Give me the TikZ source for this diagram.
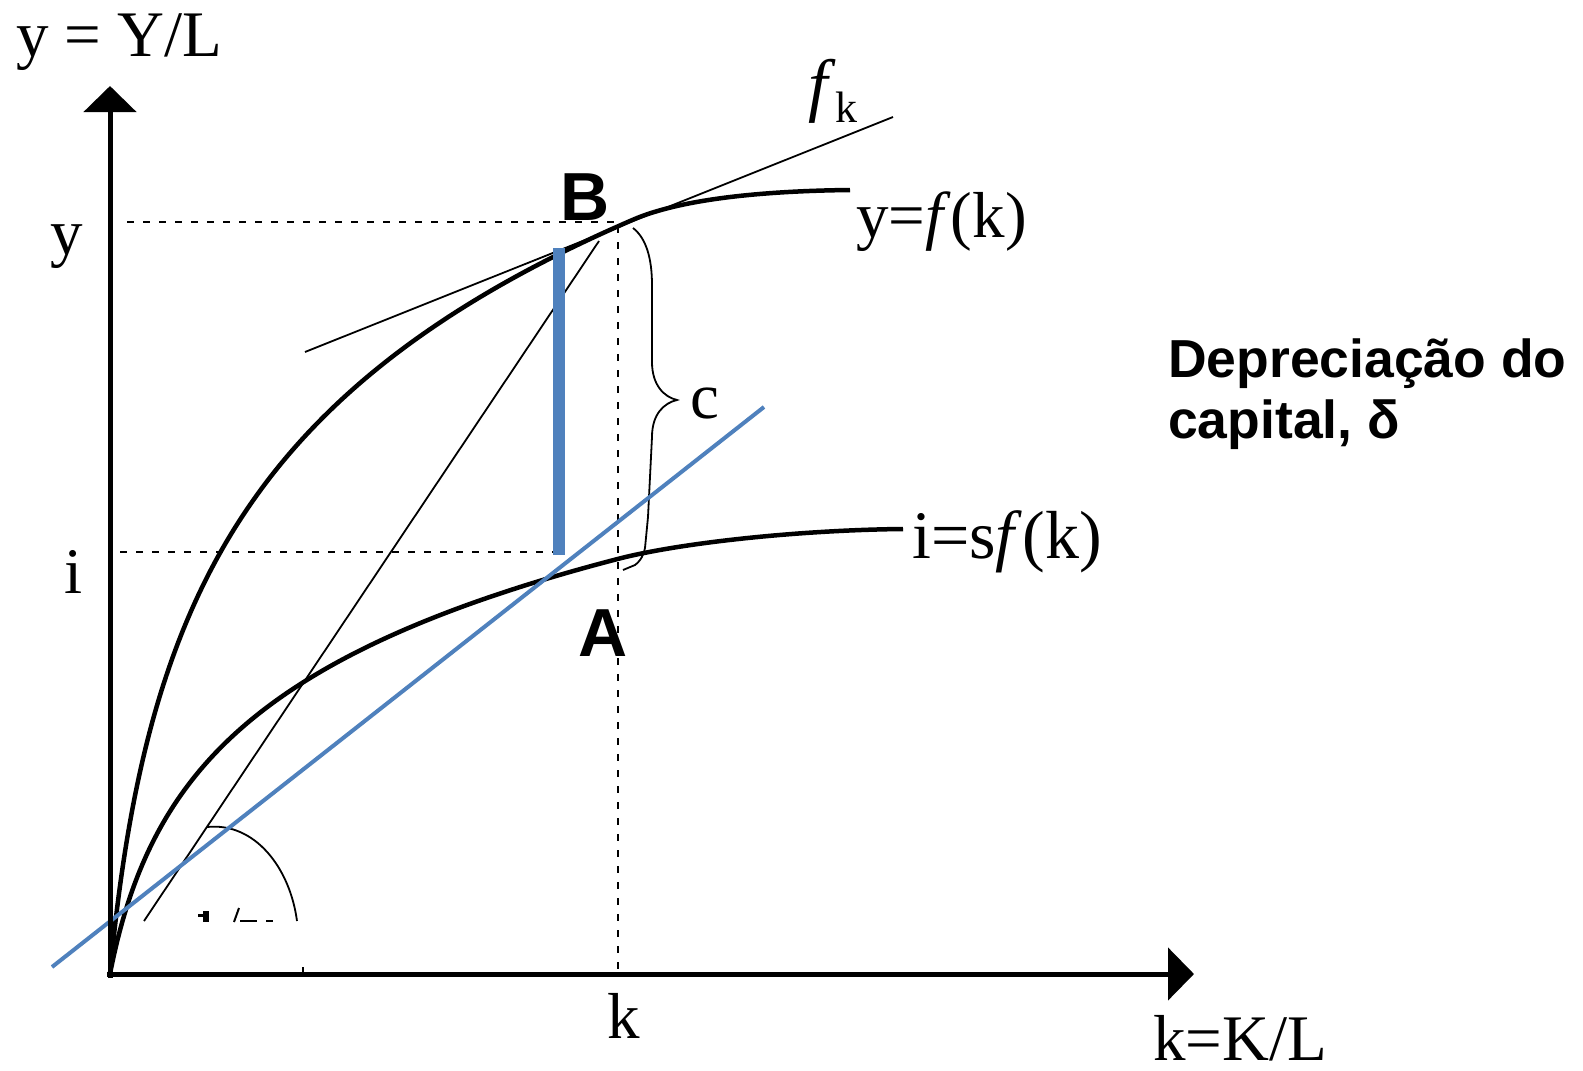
\documentclass[tikz,border=0pt]{standalone}
\usepackage{fontspec}
\setmainfont{Liberation Serif}
\newfontfamily\lsans{Liberation Sans}
\usetikzlibrary{arrows.meta}
\definecolor{blu}{RGB}{79,129,189}
\begin{document}
\begin{tikzpicture}[x=1pt,y=-1pt,
  ser/.style={font=\fontsize{65}{70}\selectfont, inner sep=0pt, anchor=base west},
  boldlab/.style={font=\lsans\bfseries\fontsize{68}{72}\selectfont, inner sep=0pt, anchor=base west},
  note/.style={font=\lsans\bfseries\fontsize{53.5}{60}\selectfont, inner sep=0pt, anchor=base west},
  curve/.style={line width=4.5pt, line join=round},
  axisline/.style={line width=5pt, -{Triangle[length=26pt,width=52pt]}},
  thinline/.style={line width=1.8pt},
  dots/.style={line width=2.5pt, dash pattern=on 7pt off 9pt},
  bluel/.style={blu, line width=4pt}]
\useasboundingbox (0,0) rectangle (1583,1071);
% coordinates
\coordinate (O) at (110,974);
\coordinate (Oy) at (110,978);
\coordinate (Ox) at (107,974);
\coordinate (ytip) at (110,86);
\coordinate (xtip) at (1194,974);
% dotted guides
\coordinate (yd1) at (127,222); \coordinate (yd2) at (618,222);
\coordinate (id1) at (120,552); \coordinate (id2) at (566,552);
\coordinate (kd1) at (618,226); \coordinate (kd2) at (618,972);
\draw[dots] (yd1) -- (yd2);
\draw[dots] (id1) -- (id2);
\draw[dots] (kd1) -- (kd2);
% curves
\coordinate (fend) at (850,190);
\coordinate (sfend) at (903,529);
\draw[curve] plot[domain=0:22.87, samples=120, variable=\t] ({110+\t*\t},{974-235*ln(1+\t*\t/22)})
   .. controls (680,199.4) and (760,191) .. (fend);
\draw[curve] plot[domain=0:22.52, samples=120, variable=\t] ({110+\t*\t},{974-139*ln(1+\t*\t/27)})
   .. controls (680,542.7) and (800,530) .. (sfend);
% tangent and thin ray
\coordinate (t1) at (305,352); \coordinate (t2) at (893,117);
\draw[thinline] (t1) -- (t2);
\coordinate (r1) at (144,921); \coordinate (r2) at (599,241);
\draw[thinline] (r1) -- (r2);
% angle arc
\coordinate (a1) at (207,827); \coordinate (a2) at (297,921);
\draw[thinline] (a1) .. controls (255,822) and (290,868) .. (a2);
% clipped fragment of a label
\fill (203,911) rectangle (209,922);
\fill (198,914) rectangle (204,917);
\draw[line width=2pt] (239,908) -- (234,922);
\draw[line width=2.5pt] (240,921) -- (257,921);
\draw[line width=2.5pt] (266,921) -- (273,921);
\draw[line width=1.5pt] (303,967) -- (303,972);
% brace
\draw[thinline] (633,228) .. controls (646,238) and (652,258) .. (652,285) -- (652,362) .. controls (652,385) and (664,397) .. (677,400) .. controls (664,403) and (652,414) .. (652,437) -- (648,517) -- (645,548) .. controls (643,558) and (638,563) .. (635,565) -- (623,570);
% blue lines
\coordinate (b1) at (52,967); \coordinate (b2) at (764,407);
\draw[bluel] (b1) -- (b2);
\coordinate (v1) at (559,248); \coordinate (v2) at (559,555);
\draw[blu, line width=12pt] (v1) -- (v2);
% axes
\draw[axisline] (Oy) -- (ytip);
\draw[axisline] (Ox) -- (xtip);
% labels
\node[ser] (lyaxis) at (16,56) {y = Y/L};
\node[ser] (ly) at (50,254) {y};
\node[ser, anchor=base] (li) at (74,593) {i};
\node[ser, anchor=base] (lk) at (624,1038) {k};
\node[ser] (lkaxis) at (1153,1060) {k=K/L};
\node[ser] (lc) at (690,418) {c};
\node[ser] (lf) at (856,237) {y=\textit{f}(k)};
\node[ser, font=\fontsize{68}{72}\selectfont] (lsf) at (912,558) {i=s\textit{f}(k)};
\node[inner sep=0pt, anchor=base west, font=\fontsize{70}{74}\selectfont] (lfk) at (808,108) {\textit{f}};
\node[inner sep=0pt, anchor=base west, font=\fontsize{44}{50}\selectfont] (lfksub) at (835,122) {k};
\node[boldlab] (lB) at (560,220) {B};
\node[boldlab] (lA) at (578,656) {A};
\node[note] (ld1) at (1168,377) {Depreciação do};
\node[note] (ld2) at (1168,438) {capital, δ};
\end{tikzpicture}
\end{document}
